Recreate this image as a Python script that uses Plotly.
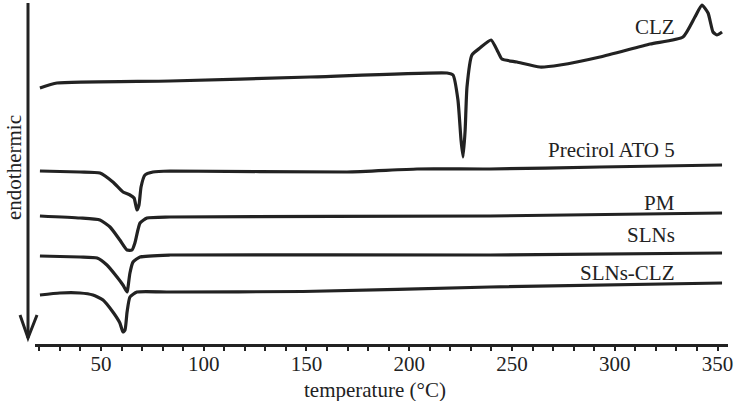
import plotly.graph_objects as go

# DSC thermograms, temperature in degC, heat flow in arbitrary units (stacked)
clz_t = [20.3, 28.6, 83.6, 151.7, 218.4, 221.3, 223.7, 225.2, 226.2, 227.2, 228.1, 230.5,
         234.4, 239.8, 243.2, 245.1, 252.4, 263.6, 273.4, 292.8, 317.2, 333.2, 339.0,
         342.4, 345.4, 347.8, 349.7, 352.2]
clz_y = [25.6, 26.1, 26.3, 26.7, 27.1, 26.9, 24.4, 20.4, 18.7, 21.4, 25.7, 28.9,
         29.6, 30.4, 29.2, 28.5, 28.2, 27.7, 27.9, 28.7, 30.0, 30.7, 32.7,
         33.9, 33.1, 31.2, 30.9, 31.2]

precirol_t = [20.3, 39.8, 49.5, 55.8, 60.7, 64.1, 66.1, 67.5, 68.5, 69.5, 71.4, 75.3,
              83.6, 169.7, 203.8, 239.3, 292.8, 352.2]
precirol_y = [17.3, 17.2, 17.1, 16.2, 15.2, 14.9, 14.6, 13.4, 13.9, 15.7, 16.9, 17.2,
              17.3, 17.2, 17.5, 17.5, 17.7, 17.9]

pm_t = [20.3, 39.8, 49.5, 54.4, 59.2, 62.7, 65.1, 66.5, 69.0, 72.4, 83.6, 239.3, 352.2]
pm_y = [12.8, 12.6, 12.4, 11.7, 10.4, 9.4, 9.4, 10.1, 12.1, 12.6, 12.7, 12.8, 13.1]

slns_t = [20.3, 39.8, 48.1, 52.9, 57.8, 60.7, 62.7, 63.1, 64.1, 65.6, 69.0, 83.6, 239.3, 352.2]
slns_y = [8.8, 8.7, 8.6, 7.9, 6.7, 5.9, 5.2, 5.6, 7.1, 8.2, 8.7, 8.9, 8.9, 9.1]

slns_clz_t = [20.3, 30.0, 39.8, 46.1, 51.0, 55.8, 59.2, 60.7, 61.7, 62.7, 64.1, 67.5,
              83.6, 148.3, 239.3, 352.2]
slns_clz_y = [4.9, 5.1, 5.1, 4.9, 4.4, 3.2, 2.1, 1.2, 1.4, 3.2, 4.7, 5.2,
              5.2, 5.25, 5.7, 6.1]

names = ["CLZ", "Precirol ATO 5", "PM", "SLNs", "SLNs-CLZ"]
label_y = [31.7, 19.4, 14.1, 10.9, 7.1]

FONT = "Liberation Serif, Times New Roman, serif"
INK = "#222222"

fig = go.Figure()
for t, y in [(clz_t, clz_y), (precirol_t, precirol_y), (pm_t, pm_y),
             (slns_t, slns_y), (slns_clz_t, slns_clz_y)]:
    fig.add_trace(go.Scatter(x=t, y=y, mode="lines",
                             line=dict(color=INK, width=3.2, shape="spline", smoothing=0.5),
                             showlegend=False, hoverinfo="skip", cliponaxis=False))

# curve labels
for name, ly in zip(names, label_y):
    fig.add_annotation(x=330.3, y=ly, text=name, showarrow=False, xanchor="right",
                       yanchor="middle", font=dict(family=FONT, size=21, color=INK))

# endothermic arrow on the left
fig.add_shape(type="line", xref="paper", yref="y", x0=-0.0101, x1=-0.0101, y0=34.1, y1=0.6,
              line=dict(color=INK, width=3))
fig.add_shape(type="path", xref="paper", yref="y",
              path="M -0.0216 2.9 L -0.0101 0.6 L 0.0029 2.9",
              line=dict(color=INK, width=3))
fig.add_annotation(xref="paper", yref="y", x=-0.0303, y=17.6, text="endothermic",
                   textangle=-90, showarrow=False, xanchor="center", yanchor="middle",
                   font=dict(family=FONT, size=21, color=INK))

# x axis title placed as an annotation so it sits exactly under the ticks
fig.add_annotation(xref="paper", yref="paper", x=0.4906, y=0, yshift=-46,
                   text="temperature (°C)", showarrow=False, xanchor="center",
                   yanchor="middle", font=dict(family=FONT, size=21, color=INK))

fig.update_layout(
    width=736, height=401,
    margin=dict(l=35, r=8, t=0, b=57),
    paper_bgcolor="white", plot_bgcolor="white",
    font=dict(family=FONT, size=21, color=INK),
)
fig.update_xaxes(
    range=[17.9, 355.1], showgrid=False, zeroline=False,
    showline=True, linecolor=INK, linewidth=3,
    ticks="outside", ticklen=4, tickwidth=2, tickcolor=INK,
    tickvals=[50, 100, 150, 200, 250, 300, 350],
    ticklabelstandoff=-5,
    minor=dict(dtick=10, ticks="outside", ticklen=4, tickwidth=2, tickcolor=INK),
    tickfont=dict(family=FONT, size=21, color=INK),
)
fig.update_yaxes(range=[0, 34.4], visible=False)

# drop the browser's default page margin so the figure fills the window
fig.write_html("out.html", config={"displayModeBar": False},
               post_script="document.body.style.margin='0';")
